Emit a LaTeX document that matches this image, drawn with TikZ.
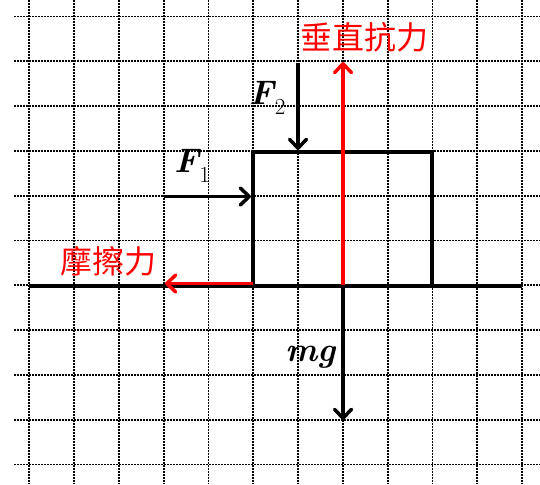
\documentclass[tikz,border=0pt]{standalone}
\usepackage{fontspec}
\newfontfamily\cjk{Noto Sans CJK TC}
\usetikzlibrary{arrows.meta}
\definecolor{fred}{RGB}{255,0,0}
\newcommand{\vecsub}[2]{{\bfseries\itshape #1}\kern0.5pt\raisebox{-0.28em}{\fontsize{23}{26}\selectfont #2}}
\tikzset{
  gridline/.style={line width=1.9pt, dash pattern=on 1.8pt off 1.2pt, black},
  thick line/.style={line width=4pt, black},
  force/.style={line width=3.5pt, -{Straight Barb[length=9pt,width=17pt,line cap=round,line join=round]}},
  redforce/.style={force, fred},
  lab/.style={inner sep=0pt, font=\fontsize{34}{40}\selectfont},
  cjklab/.style={inner sep=0pt, text=fred, font=\cjk\fontsize{32}{38}\selectfont}
}
\begin{document}
\begin{tikzpicture}[x=1pt,y=-1pt]
\useasboundingbox (0,0) rectangle (540,484);
% grid
\foreach \k in {0,...,11} {
  \draw[gridline] ({29.3+44.8*\k},0) -- ({29.3+44.8*\k},484);
}
\foreach \k in {0,...,10} {
  \draw[gridline] (14,{16.5+44.8*\k}) -- (540,{16.5+44.8*\k});
}
% block
\node[draw, thick line, minimum width=179pt, minimum height=134pt, inner sep=0pt] (box) at (342.5,219) {};
% ground
\coordinate (g1) at (29,286);
\coordinate (g2) at (522,286);
\draw[thick line] (g1) -- (g2);
% force endpoints
\coordinate (f1s) at (164,196.5);
\coordinate (f2s) at (298,63);
\coordinate (nt) at (343,62);
\coordinate (nb) at (343,285);
\coordinate (ft) at (165,283.5);
\coordinate (fs) at (253,283.5);
\coordinate (mgt) at (343,420);
% forces
\draw[force] (f1s) -- (f1s -| box.west);
\draw[force] (f2s) -- (f2s |- box.north);
\draw[force] (nb) -- (mgt);
\draw[redforce] (nb) -- (nt);
\draw[redforce] (fs) -- (ft);
% labels
\node[lab] (lF1) at (192,166) {\vecsub{F}{1}};
\node[lab] (lF2) at (267.5,98) {\vecsub{F}{2}};
\node[lab] (lmg) at (310.5,357.5) {\bfseries\itshape mg};
\node[cjklab] (lN) at (364.5,37) {垂直抗力};
\node[cjklab] (lf) at (108,261) {摩擦力};
\end{tikzpicture}
\end{document}
